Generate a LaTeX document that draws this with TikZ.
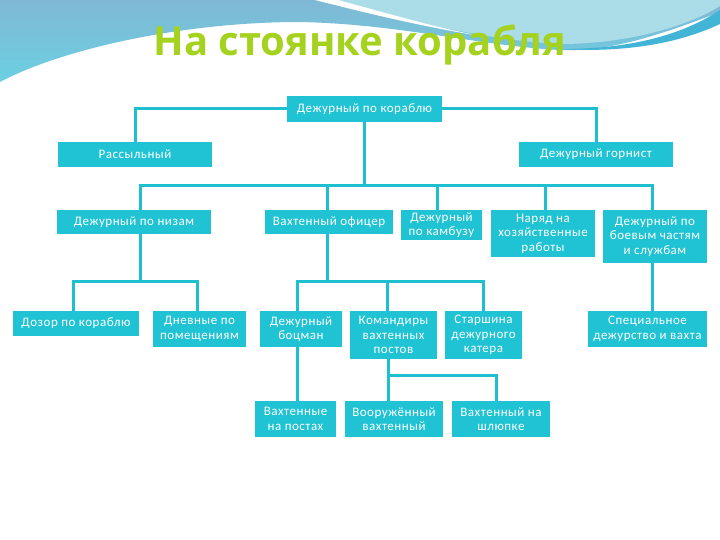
\documentclass[tikz,border=0pt]{standalone}
\usepackage{fontspec}
\setmainfont{Carlito}
\newfontfamily\titlefont{Open Sans}
\newfontfamily\boxfamily{Carlito}[LetterSpace=4]
\definecolor{boxc}{HTML}{1FC3D3}
\definecolor{linec}{HTML}{1EC0D0}
\definecolor{titlec}{HTML}{A5D21E}
\definecolor{skytop}{HTML}{7FB8D4}
\definecolor{skycyan}{HTML}{6CD0E2}
\definecolor{skylight}{HTML}{ABDDE8}
\definecolor{skyband}{HTML}{42B4D6}
\begin{document}
\begin{tikzpicture}[x=1pt,y=-1pt,
  box/.style={fill=boxc,text=white,inner sep=1pt,align=center,
    font=\boxfamily\fontsize{13}{14.5}\selectfont},
  conn/.style={draw=linec,line width=3pt}]
\useasboundingbox (0,0) rectangle (720,540);
\fill[white] (0,0) rectangle (720,540);
% sky wave
\shade[top color=skytop, bottom color=skycyan]
  (0,0) -- (720,0) -- (720,12) .. controls (660,35) and (610,52) .. (560,50)
  .. controls (480,46) and (400,24) .. (300,22)
  .. controls (180,22) and (60,50) .. (0,82) -- cycle;
\fill[skylight] (330,0) .. controls (400,18) and (480,40) .. (560,44)
  .. controls (630,44) and (690,25) .. (720,6) -- (720,0) -- cycle;
\fill[white] (315,0) -- (338,0) .. controls (390,14) and (430,26) .. (480,36)
  .. controls (420,26) and (370,14) .. (315,0) -- cycle;
\fill[skyband] (555,49) .. controls (640,50) and (690,30) .. (720,10)
  -- (720,24) .. controls (690,38) and (640,54) .. (555,49) -- cycle;
% title
\node[font=\titlefont\bfseries\fontsize{40}{42}\selectfont, text=titlec, anchor=base]
  (title) at (360,56) {На стоянке корабля};
% level 0/1
\node[box, minimum width=155, minimum height=26] (b0) at (364.5,109) {Дежурный по кораблю};
\node[box, minimum width=154, minimum height=25] (r1) at (135,154.5) {Рассыльный};
\node[box, minimum width=154, minimum height=25] (r2) at (596,154.5) {Дежурный горнист};
% level 2
\node[box, minimum width=154, minimum height=24] (a1) at (134,222) {Дежурный по низам};
\node[box, minimum width=128, minimum height=24] (a2) at (329,222) {Вахтенный офицер};
\node[box, minimum width=81, minimum height=30] (a3) at (441.5,225) {Дежурный\\по камбузу};
\node[box, minimum width=104, minimum height=47] (a4) at (543,233.5) {Наряд на\\хозяйственные\\работы};
\node[box, minimum width=104, minimum height=53] (a5) at (655,236.5) {Дежурный по\\боевым частям\\и службам};
% level 3
\node[box, minimum width=126, minimum height=25] (c1) at (76,323.5) {Дозор по кораблю};
\node[box, minimum width=93, minimum height=36] (c2) at (199.5,329) {Дневные по\\помещениям};
\node[box, minimum width=82, minimum height=36] (c3) at (301,329) {Дежурный\\боцман};
\node[box, minimum width=87, minimum height=48] (c4) at (393.5,335) {Командиры\\вахтенных\\постов};
\node[box, minimum width=77, minimum height=48] (c5) at (483.5,335) {Старшина\\дежурного\\катера};
\node[box, minimum width=119, minimum height=36] (c6) at (647.5,329) {Специальное\\дежурство и вахта};
% level 4
\node[box, minimum width=81, minimum height=36] (d1) at (295.5,419) {Вахтенные\\на постах};
\node[box, minimum width=98, minimum height=36] (d2) at (394,419) {Вооружённый\\вахтенный};
\node[box, minimum width=98, minimum height=36] (d3) at (501,419) {Вахтенный на\\шлюпке};
% connectors
\draw[conn] (b0.west) -| (r1.north);
\draw[conn] (b0.east) -| (r2.north);
\draw[conn] (b0.south) -- ++(0,64);
\draw[conn] ([xshift=6pt]a1.north) -- ++(0,-24) -| ([xshift=-3pt]a5.north);
\draw[conn] ([xshift=-2pt]a2.north) -- ++(0,-24);
\draw[conn] ([xshift=-4.5pt]a3.north) -- ++(0,-24);
\draw[conn] ([xshift=2pt]a4.north) -- ++(0,-24);
\draw[conn] ([xshift=6pt]a1.south) -- ++(0,48);
\draw[conn] ([xshift=-3pt]c1.north) -- ++(0,-29) -| ([xshift=-2.5pt]c2.north);
\draw[conn] ([xshift=-2pt]a2.south) -- ++(0,48);
\draw[conn] ([xshift=-4pt]c3.north) -- ++(0,-29) -| (c5.north);
\draw[conn] ([xshift=-6.5pt]c4.north) -- ++(0,-29);
\draw[conn] ([xshift=-3pt]a5.south) -- ([xshift=4.5pt]c6.north);
\draw[conn] ([xshift=-4pt]c3.south) -- ([xshift=1.5pt]d1.north);
\draw[conn] ([xshift=-5.5pt]c4.south) -- ([xshift=-6pt]d2.north);
\draw[conn] ([xshift=-6pt]d2.north) -- ++(0,-25) -| ([xshift=-5pt]d3.north);
\end{tikzpicture}
\end{document}
